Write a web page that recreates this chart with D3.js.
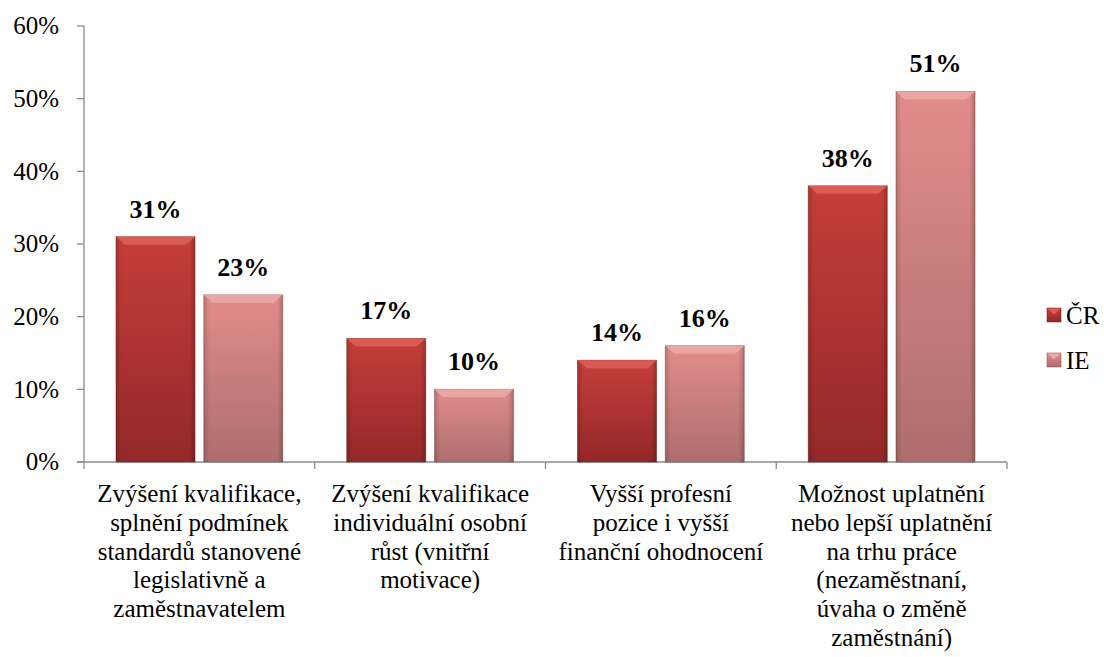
<!DOCTYPE html>
<html>
<head>
<meta charset="utf-8">
<script src="https://cdn.jsdelivr.net/npm/d3@7"></script>
<style>
body { margin:0; background:#fff; }
</style>
</head>
<body>
<svg id="chart" width="1104" height="657"></svg>
<script>
var categories = [
	["Zvýšení kvalifikace,", "splnění podmínek", "standardů stanovené", "legislativně a", "zaměstnavatelem"],
	["Zvýšení kvalifikace", "individuální osobní", "růst (vnitřní", "motivace)"],
	["Vyšší profesní", "pozice i vyšší", "finanční ohodnocení"],
	["Možnost uplatnění", "nebo lepší uplatnění", "na trhu práce", "(nezaměstnaní,", "úvaha o změně", "zaměstnání)"]
];
var seriesNames = ["ČR", "IE"];
var crValues = [0.31, 0.17, 0.14, 0.38];
var ieValues = [0.23, 0.10, 0.16, 0.51];
var yTicks = [0, 0.1, 0.2, 0.3, 0.4, 0.5, 0.6];

var plotLeft = 84, plotRight = 1007, plotTop = 26, plotBottom = 462;
var fontFam = "'Liberation Serif', 'Times New Roman', 'DejaVu Serif', serif";
var svg = d3.select("#chart")
	.attr("font-family", fontFam)
	.style("font-family", fontFam);

var x = d3.scaleBand()
	.domain(d3.range(categories.length))
	.range([plotLeft, plotRight]);
var xInner = d3.scaleBand()
	.domain([0, 1])
	.range([32, x.bandwidth()-32])
	.paddingInner(0.1);
var y = d3.scaleLinear()
	.domain([0, 0.6])
	.range([plotBottom, plotTop]);

// gradients
var defs = svg.append("defs");
var grads = [
	{ id: "gCR", top: "#c53e3a", bot: "#932828", hi: "#dc5e58", dark: "#6e1c1c" },
	{ id: "gIE", top: "#e28c8c", bot: "#ae6e6e", hi: "#eca8a6", dark: "#7d4c4c" }
];
grads.forEach(function(g) {
	var lg = defs.append("linearGradient").attr("id", g.id)
	.attr("x1", 0).attr("x2", 0).attr("y1", 0).attr("y2", 1);
	lg.append("stop").attr("offset", "0%").attr("stop-color", g.top);
	lg.append("stop").attr("offset", "100%").attr("stop-color", g.bot);
	var sh = defs.append("linearGradient").attr("id", g.id+"side")
	.attr("x1", 0).attr("x2", 1).attr("y1", 0).attr("y2", 0);
	sh.append("stop").attr("offset", "0%").attr("stop-color", "#000").attr("stop-opacity", 0.15);
	sh.append("stop").attr("offset", "7%").attr("stop-color", "#000").attr("stop-opacity", 0);
	sh.append("stop").attr("offset", "93%").attr("stop-color", "#000").attr("stop-opacity", 0);
	sh.append("stop").attr("offset", "100%").attr("stop-color", "#000").attr("stop-opacity", 0.2);
});

// axes
var yAxis = svg.append("g").attr("transform", "translate("+plotLeft+",0)");
yAxis.append("line").attr("x1", 0).attr("x2", 0)
	.attr("y1", plotTop).attr("y2", plotBottom)
	.attr("stroke", "#8c8c8c").attr("stroke-width", 1.3);
yAxis.selectAll("line.tick").data(yTicks).enter()
	.append("line").attr("class", "tick")
	.attr("x1", -7).attr("x2", 0)
	.attr("y1", function(d) { return y(d); }).attr("y2", function(d) { return y(d); })
	.attr("stroke", "#8c8c8c").attr("stroke-width", 1.3);
yAxis.selectAll("text").data(yTicks).enter()
	.append("text")
	.attr("x", -25).attr("y", function(d) { return y(d); })
	.attr("dy", "0.33em")
	.attr("text-anchor", "end")
	.attr("font-size", 25)
	.text(function(d) { return Math.round(d*100) + "%"; });

var xAxis = svg.append("g");
xAxis.append("line").attr("x1", plotLeft-7).attr("x2", plotRight)
	.attr("y1", plotBottom).attr("y2", plotBottom)
	.attr("stroke", "#8c8c8c").attr("stroke-width", 1.3);
xAxis.selectAll("line.tick").data(d3.range(categories.length+1)).enter()
	.append("line").attr("class", "tick")
	.attr("x1", function(d) { return plotLeft + d*x.step(); })
	.attr("x2", function(d) { return plotLeft + d*x.step(); })
	.attr("y1", plotBottom).attr("y2", plotBottom+7)
	.attr("stroke", "#8c8c8c").attr("stroke-width", 1.3);

var labels = xAxis.selectAll("text").data(categories).enter()
	.append("text")
	.attr("text-anchor", "middle")
	.attr("font-size", 25)
	.attr("x", function(d, i) { return x(i) + x.bandwidth()/2; });
labels.selectAll("tspan").data(function(d, i) {
	return d.map(function(t) { return { t: t, i: i }; });
}).enter()
	.append("tspan")
	.attr("x", function(d) { return x(d.i) + x.bandwidth()/2; })
	.attr("y", function(d, j) { return 502 + j*28.8; })
	.text(function(d) { return d.t; });

// bars
var data = [];
categories.forEach(function(c, i) {
	data.push({ cat: i, s: 0, v: crValues[i] });
	data.push({ cat: i, s: 1, v: ieValues[i] });
});

var bars = svg.append("g").selectAll("g").data(data).enter()
	.append("g")
	.attr("transform", function(d) { return "translate("+(x(d.cat)+xInner(d.s))+","+y(d.v)+")"; });
var bw = xInner.bandwidth();
bars.append("rect")
	.attr("width", bw)
	.attr("height", function(d) { return y(0)-y(d.v); })
	.attr("fill", function(d) { return "url(#"+grads[d.s].id+")"; })
	.attr("stroke", function(d) { return grads[d.s].dark; })
	.attr("stroke-opacity", 0.5)
	.attr("stroke-width", 1);
bars.append("rect")
	.attr("width", bw)
	.attr("height", function(d) { return y(0)-y(d.v); })
	.attr("fill", function(d) { return "url(#"+grads[d.s].id+"side)"; });
// top bevel
bars.append("path")
	.attr("d", "M0,0 L"+bw+",0 L"+(bw-9)+",8 L9,8 Z")
	.attr("fill", function(d) { return grads[d.s].hi; })
	.attr("opacity", 0.9);

svg.append("g").selectAll("text").data(data).enter()
	.append("text")
	.attr("x", function(d) { return x(d.cat)+xInner(d.s)+bw/2; })
	.attr("y", function(d) { return y(d.v) - 19; })
	.attr("text-anchor", "middle")
	.attr("font-size", 26)
	.attr("font-weight", "bold")
	.text(function(d) { return Math.round(d.v*100) + "%"; });

// legend
var legend = svg.append("g").selectAll("g").data(seriesNames).enter()
	.append("g")
	.attr("transform", function(d, i) { return "translate(1047,"+(308+i*45)+")"; });
legend.append("rect").attr("width", 14).attr("height", 14)
	.attr("fill", function(d, i) { return "url(#"+grads[i].id+")"; })
	.attr("stroke", function(d, i) { return grads[i].dark; }).attr("stroke-opacity", 0.5);
legend.append("path").attr("d", "M0.5,0.5 L13.5,0.5 L7,6.5 Z")
	.attr("fill", function(d, i) { return grads[i].hi; });
legend.append("text").attr("x", 19).attr("y", 7).attr("dy", "0.35em")
	.attr("font-size", 25)
	.text(function(d) { return d; });
</script>
</body>
</html>
